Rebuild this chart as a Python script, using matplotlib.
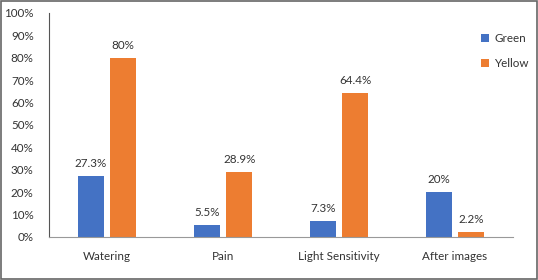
import numpy as np
import matplotlib.pyplot as plt
from matplotlib.patches import Rectangle

plt.rcParams['font.family'] = ['Lato', 'DejaVu Sans']

categories = ["Watering", "Pain", "Light Sensitivity", "After images"]
green = [27.3, 5.5, 7.3, 20]
yellow = [80, 28.9, 64.4, 2.2]
green_labels = ["27.3%", "5.5%", "7.3%", "20%"]
yellow_labels = ["80%", "28.9%", "64.4%", "2.2%"]

fig = plt.figure(figsize=(5.38, 2.8), dpi=100)
ax = fig.add_axes([0.091, 0.1536, 0.8625, 0.8])

x = np.arange(len(categories))
w = 0.225
b1 = ax.bar(x - 0.14, green, w, color="#4472C4", label="Green")
b2 = ax.bar(x + 0.14, yellow, w, color="#ED7D31", label="Yellow")

for bars, labs in [(b1, green_labels), (b2, yellow_labels)]:
    for r, t in zip(bars, labs):
        ax.annotate(t, (r.get_x() + r.get_width() / 2, r.get_height()),
                    xytext=(0, 5), textcoords="offset points",
                    ha="center", va="bottom", fontsize=8.4, color="#333333")

ax.set_xlim(-0.5, 3.5)
ax.set_ylim(0, 100)
ax.set_yticks(np.arange(0, 101, 10))
ax.set_yticklabels([f"{v}%" for v in range(0, 101, 10)])
ax.set_xticks(x)
ax.set_xticklabels(categories)
ax.tick_params(axis="both", length=0, labelsize=8.4, colors="#333333")
ax.tick_params(axis="y", pad=11)
ax.tick_params(axis="x", pad=10)

for s in ["top", "right"]:
    ax.spines[s].set_visible(False)
ax.spines["left"].set_color("#555555")
ax.spines["bottom"].set_color("#999999")

fig.legend(loc="upper left", bbox_to_anchor=(0.875, 0.92), frameon=False,
           fontsize=8.4, handlelength=0.7, handleheight=0.7, handletextpad=0.4,
           labelspacing=1.2, labelcolor="#333333")

fig.patches.append(Rectangle((0.002, 0.003), 0.996, 0.994, transform=fig.transFigure,
                             fill=False, edgecolor="#666666", linewidth=1.2))

fig.savefig("out.png", dpi=100)
